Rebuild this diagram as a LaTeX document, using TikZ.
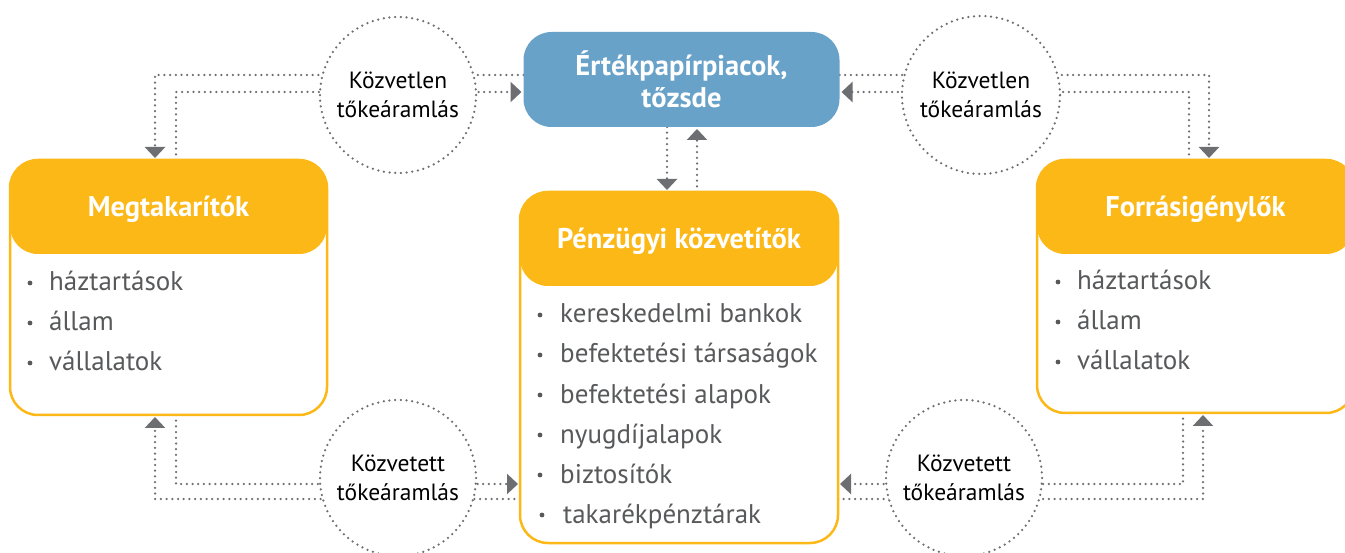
\documentclass[tikz,border=0pt]{standalone}
\usepackage{fontspec}
\setmainfont{PT Sans}
\usetikzlibrary{arrows.meta,backgrounds}
\definecolor{ylw}{HTML}{FBB817}
\definecolor{blu}{HTML}{68A2C9}
\definecolor{gry}{HTML}{6D6E71}
\definecolor{txt}{HTML}{58595B}
\tikzset{
  box/.style={draw=ylw, line width=2.5pt, fill=white, rounded corners=28pt, inner sep=0pt, outer sep=0pt},
  head/.style={fill=ylw, rounded corners=28pt, inner sep=0pt, outer sep=0pt, text=white,
    text height=19pt, text depth=0pt, font=\fontsize{28.5}{34}\selectfont\bfseries},
  market/.style={fill=blu, rounded corners=28pt, inner sep=0pt, outer sep=0pt, text=white, align=center,
    font=\fontsize{28.5}{32}\selectfont\bfseries},
  flow/.style={draw=gry, line width=2.5pt, dash pattern=on 0pt off 5.7pt, line cap=round},
  tipped/.style={-{Triangle[length=11pt,width=20pt,fill=gry,color=gry]}, shorten >=2pt},
  circ/.style={circle, draw=gry, fill=white, line width=2.5pt, dash pattern=on 0pt off 5.7pt, line cap=round,
    minimum size=156pt, inner sep=0pt, align=center, font=\fontsize{23.5}{29}\selectfont},
  item/.style={anchor=base west, inner sep=0pt, text=txt, font=\fontsize{27}{30}\selectfont},
}
\begin{document}
\begin{tikzpicture}[x=1pt,y=-1pt]
\useasboundingbox (0,0) rectangle (1345,553);

% boxes
\node[box, minimum width=317pt, minimum height=255pt] (sav) at (168.5,287.5) {};
\node[head, minimum width=317pt, minimum height=94pt, anchor=north] (savh) at (sav.north) {Megtakarítók};
\node[box, minimum width=318pt, minimum height=351pt] (pz) at (679,367.5) {};
\node[head, minimum width=318pt, minimum height=94pt, anchor=north] (pzh) at (pz.north) {Pénzügyi közvetítők};
\node[box, minimum width=317pt, minimum height=253pt] (fig) at (1195.5,286.5) {};
\node[head, minimum width=317pt, minimum height=94pt, anchor=north] (figh) at (fig.north) {Forrásigénylők};
\node[market, minimum width=316pt, minimum height=95pt] (blue) at (681.5,79.5) {Értékpapírpiacok,\\tőzsde};

% lists
\foreach \t [count=\i] in {háztartások, állam, vállalatok} {
  \fill[txt] (30,243+40*\i) circle (2.4pt);
  \node[item] (sl\i) at (49,251+40*\i) {\t};
  \fill[txt] (1058,242+40*\i) circle (2.4pt);
  \node[item] (fl\i) at (1077,250+40*\i) {\t};
}
\foreach \t [count=\i] in {kereskedelmi bankok, befektetési társaságok, befektetési alapok, nyugdíjalapok, biztosítók} {
  \fill[txt] (540,275+40*\i) circle (2.4pt);
  \node[item] (pl\i) at (560,283+40*\i) {\t};
}
\fill[txt] (542,515) circle (2.4pt);
\node[item] (pl6) at (563,523) {takarékpénztárak};

% circles
\node[circ] (c1) at (398,95) {Közvetlen\\tőkeáramlás};
\node[circ, minimum size=158pt] (c2) at (981,95) {Közvetlen\\tőkeáramlás};
\node[circ] (c3) at (398,478) {Közvetett\\tőkeáramlás};
\node[circ] (c4) at (964,478) {Közvetett\\tőkeáramlás};

% connectors
\begin{pgfonlayer}{background}
\draw[flow,tipped] (blue.west |- 0,75) -| (sav.north -| 155,0);
\draw[flow,tipped] (sav.north -| 176,0) |- (blue.west |- 0,92);
\draw[flow,tipped] (blue.south -| 667,0) -- (pz.north -| 667,0);
\draw[flow,tipped] (pz.north -| 697,0) -- (blue.south -| 697,0);
\draw[flow,tipped] (blue.east |- 0,75) -| (fig.north -| 1209,0);
\draw[flow,tipped] (fig.north -| 1189,0) |- (blue.east |- 0,92);
\draw[flow,tipped] (sav.south -| 176,0) |- (pz.west |- 0,484);
\draw[flow,tipped] (pz.west |- 0,499) -| (sav.south -| 155,0);
\draw[flow,tipped] (fig.south -| 1183,0) |- (pz.east |- 0,484);
\draw[flow,tipped] (pz.east |- 0,499) -| (fig.south -| 1203,0);
\end{pgfonlayer}
\end{tikzpicture}
\end{document}
